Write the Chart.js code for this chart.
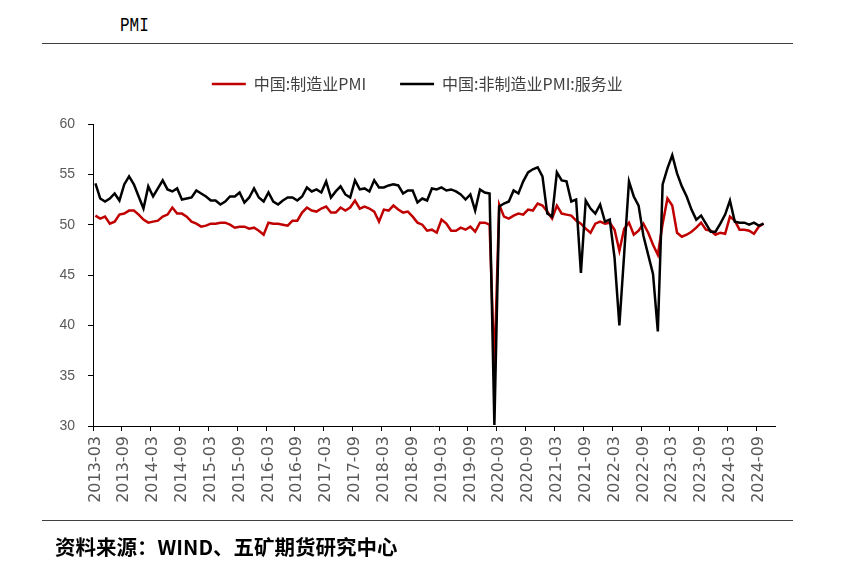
<!DOCTYPE html>
<html>
<head>
<meta charset="utf-8">
<script src="https://cdn.jsdelivr.net/npm/chart.js@4.4.1/dist/chart.umd.min.js"></script>
<style>
  body { margin: 0; background: #fff; }
  #wrap { position: relative; width: 850px; height: 569px; }
  #c { position: absolute; left: 0; top: 0; }
  .rule { position: absolute; left: 42px; width: 751px; height: 0; border-top: 1.5px solid #404040; }
  #title { position: absolute; left: 120px; top: 14px; font: 20px "Liberation Mono", monospace; color: #000;
           transform: scaleX(0.8); transform-origin: left top; }
  #source { position: absolute; left: 55px; top: 531px; font: 700 20.5px "Noto Sans CJK SC", sans-serif; color: #000; }
</style>
</head>
<body>
<div id="wrap">
  <div id="title">PMI</div>
  <div class="rule" style="top:43px"></div>
  <canvas id="c" width="850" height="569"></canvas>
  <div class="rule" style="top:520px"></div>
  <div id="source">资料来源：WIND、五矿期货研究中心</div>
</div>
<script>
// 月份: 2013-03 ... 2024-12 (数据到 2024-10)
const months = [];
for (let y = 2013; y <= 2024; y++) {
    for (let m = (y === 2013 ? 3 : 1); m <= 12; m++) {
        months.push(y + "-" + String(m).padStart(2, "0"));
    }
}

// 中国:制造业PMI
const mfgPMI = [
    50.9, 50.6, 50.8, 50.1, 50.3, 51.0, 51.1, 51.4, 51.4, 51.0,
    50.5, 50.2, 50.3, 50.4, 50.8, 51.0, 51.7, 51.1, 51.1, 50.8, 50.3, 50.1,
    49.8, 49.9, 50.1, 50.1, 50.2, 50.2, 50.0, 49.7, 49.8, 49.8, 49.6, 49.7,
    49.4, 49.0, 50.2, 50.1, 50.1, 50.0, 49.9, 50.4, 50.4, 51.2, 51.7, 51.4,
    51.3, 51.6, 51.8, 51.2, 51.2, 51.7, 51.4, 51.7, 52.4, 51.6, 51.8, 51.6,
    51.3, 50.3, 51.5, 51.4, 51.9, 51.5, 51.2, 51.3, 50.8, 50.2, 50.0, 49.4,
    49.5, 49.2, 50.5, 50.1, 49.4, 49.4, 49.7, 49.5, 49.8, 49.3, 50.2, 50.2,
    50.0, 35.7, 52.0, 50.8, 50.6, 50.9, 51.1, 51.0, 51.5, 51.4, 52.1, 51.9,
    51.3, 50.6, 51.9, 51.1, 51.0, 50.9, 50.4, 50.1, 49.6, 49.2, 50.1, 50.3,
    50.1, 50.2, 49.5, 47.4, 49.6, 50.2, 49.0, 49.4, 50.1, 49.2, 48.0, 47.0,
    50.1, 52.6, 51.9, 49.2, 48.8, 49.0, 49.3, 49.7, 50.2, 49.5, 49.4, 49.0,
    49.2, 49.1, 50.8, 50.4, 49.5, 49.5, 49.4, 49.1, 49.8, 50.1
];

// 中国:非制造业PMI:服务业
const svcPMI = [
    54.1, 52.6, 52.3, 52.6, 53.1, 52.4, 54.0, 54.8, 54.0, 52.8,
    51.6, 53.8, 52.8, 53.6, 54.4, 53.5, 53.3, 53.6, 52.5, 52.6, 52.7, 53.4,
    53.1, 52.8, 52.4, 52.4, 52.0, 52.3, 52.8, 52.8, 53.2, 52.2, 52.7, 53.6,
    52.7, 52.3, 53.2, 52.3, 52.0, 52.4, 52.7, 52.7, 52.4, 52.8, 53.7, 53.3,
    53.5, 53.2, 54.3, 52.7, 53.3, 53.8, 53.0, 52.7, 54.4, 53.5, 53.6, 53.3,
    54.4, 53.7, 53.7, 53.9, 54.0, 53.9, 53.1, 53.4, 53.4, 52.2, 52.6, 52.4,
    53.6, 53.5, 53.7, 53.4, 53.5, 53.3, 53.0, 52.5, 53.0, 51.4, 53.5, 53.2,
    53.1, 30.1, 51.8, 52.1, 52.3, 53.4, 53.1, 54.3, 55.2, 55.5, 55.7, 54.8,
    51.1, 50.8, 55.2, 54.4, 54.3, 52.3, 52.5, 45.2, 52.4, 51.6, 51.1, 52.0,
    50.3, 50.5, 46.7, 40.0, 47.1, 54.3, 52.8, 51.9, 48.9, 47.0, 45.1, 39.4,
    54.0, 55.6, 56.9, 55.1, 53.8, 52.8, 51.5, 50.5, 50.9, 50.1, 49.3, 49.3,
    50.1, 51.0, 52.4, 50.3, 50.2, 50.2, 50.0, 50.2, 49.9, 50.1
];

const yTicks = [30, 35, 40, 45, 50, 55, 60];

let ctx = document.getElementById("c").getContext("2d");

new Chart(ctx, {
    type: "line",
    data: {
        labels: months,
        datasets: [
            {
                label: "中国:制造业PMI",
                data: mfgPMI,
                borderColor: "#C00000",
                backgroundColor: "#C00000",
                borderWidth: 2.5,
                pointRadius: 0,
                order: 1
            },
            {
                label: "中国:非制造业PMI:服务业",
                data: svcPMI,
                borderColor: "#000000",
                backgroundColor: "#000000",
                borderWidth: 2.5,
                pointRadius: 0,
                order: 0
            }
        ]
    },
    options: {
        responsive: false,
        animation: false,
        layout: { padding: { left: 59, right: 74.4, top: 42, bottom: 53 } },
        plugins: {
            tooltip: { enabled: false },
            legend: {
                position: "top",
                labels: {
                    usePointStyle: true,
                    pointStyle: "line",
                    pointStyleWidth: 34,
                    boxHeight: 16,
                    padding: 34,
                    color: "#404040",
                    font: { family: "Noto Sans CJK SC", size: 16 },
                    sort: (a, b) => a.datasetIndex - b.datasetIndex
                }
            },
            // espace vide entre légende et graphique
            subtitle: {
                display: true,
                text: "",
                weight: 500,
                padding: { top: 10, bottom: 0 },
                font: { size: 10 }
            }
        },
        scales: {
            x: {
                offset: true,
                grid: {
                    offset: true,
                    drawOnChartArea: false,
                    drawTicks: true,
                    tickLength: 5,
                    color: c => (c.index !== undefined && c.index % 6 === 0) ? "#000" : "rgba(0,0,0,0)"
                },
                border: { color: "#000", width: 1 },
                ticks: {
                    autoSkip: false,
                    maxRotation: 90,
                    minRotation: 90,
                    padding: 5,
                    color: "#595959",
                    font: { family: "DejaVu Sans", size: 16 },
                    callback: (val, i) => i % 6 === 0 ? months[i] : ""
                },
                afterFit: s => { s.height = 90; }
            },
            y: {
                min: 30,
                max: 60,
                grid: { drawOnChartArea: false, drawTicks: true, tickLength: 5, color: "#000" },
                border: { color: "#000", width: 1 },
                ticks: {
                    stepSize: 5,
                    padding: 13,
                    color: "#595959",
                    font: { family: "Liberation Sans", size: 14 },
                    callback: v => yTicks.includes(v) ? v : ""
                },
                afterFit: s => { s.width = 34; }
            }
        }
    }
});
</script>
</body>
</html>
